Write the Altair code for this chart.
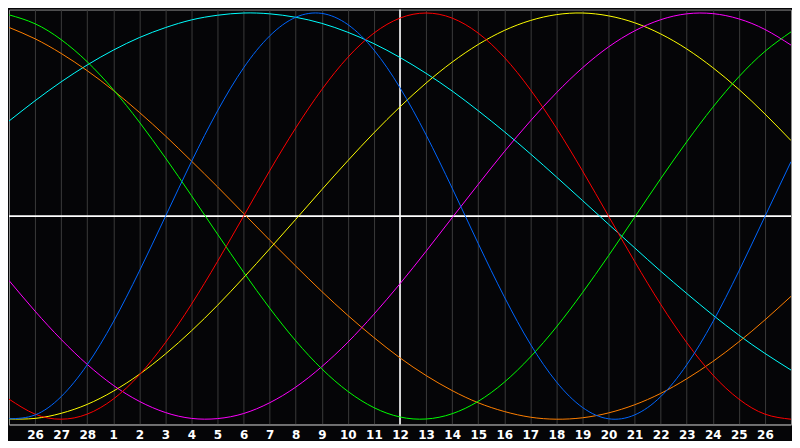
import json
import altair as alt
import pandas as pd

# Day labels for each day index 0..30 (Feb 25 .. Mar 27)
day_labels = ["25", "26", "27", "28", "1", "2", "3", "4", "5", "6", "7", "8", "9",
              "10", "11", "12", "13", "14", "15", "16", "17", "18", "19", "20",
              "21", "22", "23", "24", "25", "26", "27"]
day_index = list(range(len(day_labels)))
labeled_ticks = day_index[1:-1]
today_index = 15

# Cycle values, one per day (range -1..1)
physical = [-0.998, -0.979, -0.889, -0.732, -0.521, -0.271, -0.002, 0.268, 0.518, 0.730,
            0.887, 0.979, 0.998, 0.943, 0.818, 0.632, 0.400, 0.138, -0.135, -0.397,
            -0.630, -0.816, -0.942, -0.998, -0.979, -0.889, -0.732, -0.521, -0.271,
            -0.002, 0.268]
emotional = [-0.901, -0.975, -1.000, -0.975, -0.901, -0.782, -0.623, -0.434, -0.223, 0.000,
             0.223, 0.434, 0.623, 0.782, 0.901, 0.975, 1.000, 0.975, 0.901, 0.782, 0.623,
             0.434, 0.223, 0.000, -0.223, -0.434, -0.623, -0.782, -0.901, -0.975, -1.000]
intellectual = [0.991, 0.947, 0.869, 0.760, 0.623, 0.463, 0.287, 0.101, -0.089, -0.276,
                -0.453, -0.614, -0.752, -0.863, -0.943, -0.989, -0.999, -0.973, -0.912,
                -0.818, -0.694, -0.546, -0.377, -0.195, -0.006, 0.184, 0.366, 0.536,
                0.686, 0.811, 0.907]
intuitive = [-0.317, -0.468, -0.607, -0.730, -0.833, -0.912, -0.967, -0.996, -0.997,
             -0.972, -0.919, -0.842, -0.741, -0.621, -0.483, -0.333, -0.173, -0.008,
             0.156, 0.317, 0.468, 0.607, 0.730, 0.833, 0.912, 0.967, 0.996, 0.997,
             0.971, 0.919, 0.842]
aesthetic = [-0.999, -0.996, -0.971, -0.927, -0.862, -0.779, -0.679, -0.565, -0.439,
             -0.303, -0.161, -0.016, 0.130, 0.273, 0.410, 0.538, 0.655, 0.758, 0.845,
             0.914, 0.963, 0.992, 1.000, 0.986, 0.952, 0.897, 0.823, 0.731, 0.624,
             0.503, 0.372]
awareness = [0.929, 0.873, 0.801, 0.716, 0.619, 0.511, 0.395, 0.271, 0.144, 0.013,
             -0.118, -0.246, -0.371, -0.489, -0.598, -0.698, -0.785, -0.859, -0.919,
             -0.962, -0.990, -1.000, -0.993, -0.969, -0.929, -0.873, -0.801, -0.716,
             -0.619, -0.511, -0.395]
spiritual = [0.468, 0.568, 0.661, 0.744, 0.817, 0.879, 0.928, 0.966, 0.989, 1.000, 0.996,
             0.979, 0.949, 0.905, 0.849, 0.781, 0.703, 0.616, 0.519, 0.416, 0.307, 0.193,
             0.077, -0.040, -0.156, -0.271, -0.381, -0.487, -0.586, -0.676, -0.758]

series_names = ["Spiritual", "Awareness", "Aesthetic", "Intuitive", "Intellectual",
                "Emotional", "Physical"]
series_values = [spiritual, awareness, aesthetic, intuitive, intellectual, emotional,
                 physical]
series_colors = ["#00ffff", "#ff8000", "#ffff00", "#ff00ff", "#00ff00", "#ff0000",
                 "#0066ff"]

rows = []
for name, vals in zip(series_names, series_values):
    for i, v in zip(day_index, vals):
        rows.append({"series": name, "i": i, "v": v})
df = pd.DataFrame(rows)

label_expr = json.dumps(day_labels) + "[datum.value]"

x_enc = alt.X(
    "i:Q",
    scale=alt.Scale(domain=[day_index[0], day_index[-1]], nice=False, zero=False),
    axis=alt.Axis(
        values=labeled_ticks,
        labelExpr=label_expr,
        grid=True,
        gridColor="#3a3a3a",
        gridWidth=1,
        ticks=False,
        domain=True,
        domainColor="#9a9a9a",
        labelColor="#ffffff",
        labelFont="DejaVu Sans",
        labelFontWeight="bold",
        labelFontSize=12,
        labelPadding=5,
        title=None,
    ),
)
y_enc = alt.Y("v:Q", scale=alt.Scale(domain=[-1.026, 1.017], nice=False, zero=False),
              axis=None)

vrule = alt.Chart(pd.DataFrame({"i": [today_index]})).mark_rule(
    color="#ffffff", strokeWidth=1.6
).encode(x=x_enc)

hrule = alt.Chart(pd.DataFrame({"v": [0]})).mark_rule(
    color="#ffffff", strokeWidth=1.6
).encode(y=y_enc)

lines = alt.Chart(df).mark_line(strokeWidth=1, interpolate="natural", clip=True).encode(
    x=x_enc,
    y=y_enc,
    color=alt.Color("series:N", scale=alt.Scale(domain=series_names, range=series_colors),
                    legend=None),
)

chart = alt.layer(vrule, hrule, lines).properties(
    width=784, height=416, background="#050507", padding=0
).configure_view(stroke="#8c8c8c", strokeWidth=1)

chart.save("out.html", embed_options={"renderer": "svg", "actions": False})
